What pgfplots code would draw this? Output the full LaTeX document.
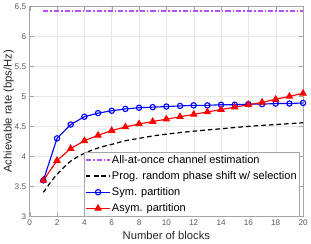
\documentclass[border=0pt]{standalone}
\usepackage{fontspec}
\setmainfont{Liberation Sans}
\usepackage{pgfplots}
\pgfplotsset{compat=1.18}
\definecolor{mpurple}{RGB}{180,80,255}
\begin{document}
\begin{tikzpicture}
\begin{axis}[
  scale only axis, width=268pt, height=206pt,
  xmin=0, xmax=20, ymin=3, ymax=6.5,
  xtick={0,2,...,20}, ytick={3,3.5,...,6.5},
  /pgf/number format/assume math mode=true,
  yticklabel style={/pgf/number format/fixed, /pgf/number format/precision=1},
  tick label style={font=\fontsize{8}{8}\selectfont, text=black!65},
  grid=major, grid style={gray!18},
  axis line style={gray!70}, tick style={gray!70},
  xlabel={Number of blocks}, ylabel={Achievable rate (bps/Hz)},
  xlabel style={font=\fontsize{11}{11}\selectfont, yshift=1pt, text=black!85},
  ylabel style={font=\fontsize{11}{11}\selectfont, yshift=-6pt, text=black!85},
  legend style={at={(rel axis cs:0.985,0)}, anchor=south east, font=\fontsize{10.8}{11}\selectfont, draw=gray!70, inner sep=1pt, row sep=2.5pt, cells={anchor=west}, nodes={inner xsep=1pt}},
  legend cell align=left,
  legend image code/.code={\draw[mark repeat=2,mark phase=2,#1] plot coordinates {(0cm,0cm) (0.42cm,0cm) (0.84cm,0cm)};},
]
\addplot[mpurple, dash pattern=on 5pt off 2pt on 1.5pt off 2pt, line width=1.4pt] coordinates {(1,6.42) (20,6.42)};
\addlegendentry{All-at-once channel estimation}
\addplot[black, dash pattern=on 4.5pt off 3pt, line width=1.2pt, smooth] coordinates {
(1,3.4) (1.5,3.56) (2,3.7) (3,3.92) (4,4.05) (5,4.14) (6,4.2) (7,4.26) (8,4.3) (9,4.34) (10,4.37) (12,4.42) (14,4.46) (16,4.5) (18,4.53) (20,4.56)};
\addlegendentry{Prog. random phase shift w/ selection}
\addplot[blue, line width=1.1pt, mark=o, mark options={solid}, mark size=2.6pt] coordinates {
(1,3.6) (2,4.3) (3,4.53) (4,4.66) (5,4.72) (6,4.76) (7,4.79) (8,4.81) (9,4.82) (10,4.83) (11,4.84) (12,4.85) (13,4.85) (14,4.86) (15,4.86) (16,4.87) (17,4.87) (18,4.88) (19,4.88) (20,4.89)};
\addlegendentry{Sym. partition}
\addplot[red, line width=1.1pt, mark=triangle*, mark options={fill=red, draw=red}, mark size=3.3pt] coordinates {
(1,3.6) (2,3.93) (3,4.13) (4,4.26) (5,4.35) (6,4.43) (7,4.49) (8,4.54) (9,4.58) (10,4.62) (11,4.66) (12,4.7) (13,4.74) (14,4.78) (15,4.82) (16,4.86) (17,4.9) (18,4.95) (19,5.0) (20,5.05)};
\addlegendentry{Asym. partition}
\end{axis}
\end{tikzpicture}
\end{document}
